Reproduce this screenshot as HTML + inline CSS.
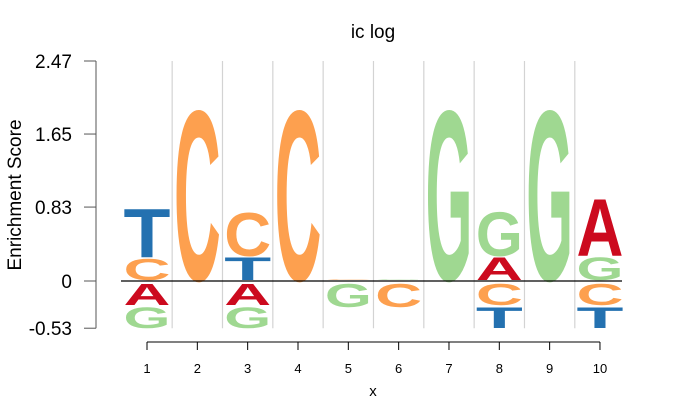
<!DOCTYPE html>
<html><head><meta charset="utf-8"><style>
body{margin:0;background:#fff}
svg{display:block;font-family:"Liberation Sans",sans-serif}
</style></head><body>
<svg id="chart" width="700" height="400" viewBox="0 0 700 400">
<text x="373" y="38" font-size="19" text-anchor="middle">ic log</text>
<text transform="translate(21,195) rotate(-90)" font-size="19" text-anchor="middle">Enrichment Score</text>
<text x="373" y="396" font-size="15" text-anchor="middle">x</text>
<g id="grid"></g><g id="letters"></g><g id="axes"></g>
</svg>
<script>
const positions=[1,2,3,4,5,6,7,8,9,10];
const yTicks=[2.47,1.65,0.83,0,-0.53];
const posStacks=[
 [["C",0.26],["T",0.57]],
 [["C",1.98]],
 [["T",0.27],["C",0.51]],
 [["C",1.98]],
 [["C",0.02]],
 [["G",0.02]],
 [["G",1.98]],
 [["A",0.27],["G",0.52]],
 [["G",1.98]],
 [["G",0.27],["A",0.67]]
];
const negStacks=[
 [["A",0.27],["G",0.26]],
 [],
 [["A",0.27],["G",0.26]],
 [],
 [["G",0.29]],
 [["C",0.29]],
 [],
 [["C",0.27],["T",0.26]],
 [],
 [["C",0.27],["T",0.26]]
];
const colors={A:"#CC0A1E",C:"#FDA04F",G:"#9FD891",T:"#2471B0"};
const NS="http://www.w3.org/2000/svg";
const X=v=>147+(v-1)*50.33;
const Y=v=>281-v*89.07;
function mk(tag,attrs,parent){const e=document.createElementNS(NS,tag);for(const k in attrs)e.setAttribute(k,attrs[k]);parent.appendChild(e);return e;}
const grid=document.getElementById('grid'),letters=document.getElementById('letters'),axes=document.getElementById('axes');
for(let i=1;i<positions.length;i++){
 const l=mk('line',{x1:X(i+0.5),x2:X(i+0.5),y1:Y(2.47),y2:Y(-0.53),stroke:"#d3d3d3","stroke-width":1.2},grid);
 
 
}
const zl=mk('line',{x1:121,x2:622,y1:Y(0),y2:Y(0),stroke:"#000","stroke-width":1.2},axes);


function drawLetter(ch,cx,yTop,yBot){
 const h=yBot-yTop; if(h<=0.3)return;
 const w=44;
 const g=mk('g',{transform:`translate(${cx},${yBot}) scale(${w/60},${h/72})`},letters);
 const t=mk('text',{x:0,y:0,"font-size":100,"font-weight":"bold","text-anchor":"middle",textLength:64,lengthAdjust:"spacingAndGlyphs",fill:colors[ch]},g);
 t.textContent=ch;
 
 
}
positions.forEach((p,i)=>{
 let acc=0;
 posStacks[i].forEach(([ch,h])=>{drawLetter(ch,X(p),Y(acc+h),Y(acc)-1);acc+=h;});
 acc=0;
 negStacks[i].forEach(([ch,h])=>{drawLetter(ch,X(p),Y(-acc)+2,Y(-acc-h));acc+=h;});
});
const ya=mk('line',{x1:96,x2:96,y1:Y(2.47),y2:Y(-0.53),stroke:"#555","stroke-width":1},axes);


yTicks.forEach(v=>{
 mk('line',{x1:84,x2:96,y1:Y(v),y2:Y(v),stroke:"#555"},axes);
 const t=mk('text',{x:72,y:Y(v)+7,"font-size":19,"text-anchor":"end"},axes);
 t.textContent=(v===0?"0":v.toFixed(2));
 
 
});
const xa=mk('line',{x1:X(1),x2:X(10),y1:342,y2:342,stroke:"#000"},axes);


positions.forEach(p=>{
 mk('line',{x1:X(p),x2:X(p),y1:342,y2:350,stroke:"#000"},axes);
 const t=mk('text',{x:X(p),y:373,"font-size":13,"text-anchor":"middle"},axes);
 t.textContent=p;
 
 
});
</script>
</body></html>
